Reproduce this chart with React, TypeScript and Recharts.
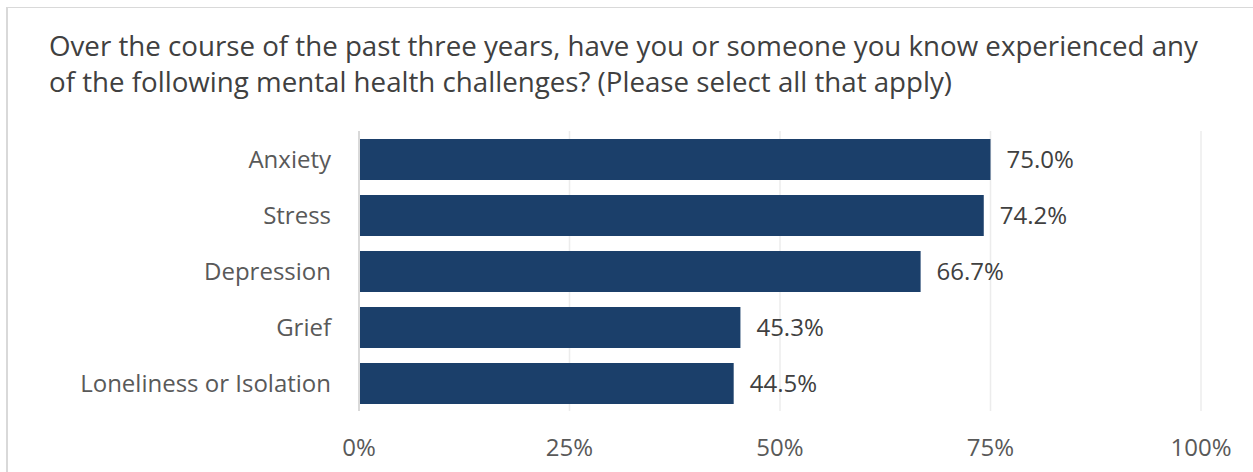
import React from 'react';
import { BarChart, Bar, XAxis, YAxis, CartesianGrid, LabelList } from 'recharts';

const categories = ['Anxiety', 'Stress', 'Depression', 'Grief', 'Loneliness or Isolation'];
const percents = [75.0, 74.2, 66.7, 45.3, 44.5];
const xTicks = [0, 25, 50, 75, 100];

const data = categories.map((name, i) => ({ name, value: percents[i] }));

const FONT = '"Open Sans", "Noto Sans", sans-serif';

export default function App() {
  return (
    <div
      style={{
        position: 'absolute',
        left: 0,
        top: 0,
        width: 1253,
        height: 472,
        background: '#fff',
        overflow: 'hidden',
        fontFamily: FONT,
      }}
    >
      {/* panel border */}
      <div
        style={{
          position: 'absolute',
          left: 6,
          top: 7,
          right: 0,
          bottom: -10,
          borderLeft: '2px solid #d9d9d9',
          borderTop: '1px solid #d9d9d9',
        }}
      />
      <div
        style={{
          position: 'absolute',
          left: 49,
          top: 27,
          width: 1204,
          fontSize: 27.7,
          lineHeight: '36px',
          color: '#404040',
          whiteSpace: 'nowrap',
        }}
      >
        Over the course of the past three years, have you or someone you know experienced any
        <br />
        of the following mental health challenges? (Please select all that apply)
      </div>
      <div style={{ position: 'absolute', left: 0, top: 0 }}>
        <BarChart
          width={1253}
          height={472}
          data={data}
          layout="vertical"
          margin={{ top: 131, right: 52, bottom: 0, left: 0 }}
        >
          <CartesianGrid horizontal={false} stroke="#ececec" strokeWidth={1.5} />
          <XAxis
            type="number"
            domain={[0, 100]}
            ticks={xTicks}
            tickFormatter={(v: number) => `${v}%`}
            axisLine={false}
            tickLine={false}
            tickMargin={22}
            height={61}
            tick={{ fill: '#595959', fontSize: 24, fontFamily: FONT }}
          />
          <YAxis
            type="category"
            dataKey="name"
            width={359}
            axisLine={{ stroke: '#d9d9d9', strokeWidth: 2 }}
            tickLine={false}
            tickMargin={22}
            tick={{ fill: '#595959', fontSize: 24, fontFamily: FONT }}
          />
          <Bar dataKey="value" fill="#1b3f6a" barSize={41} isAnimationActive={false}>
            <LabelList
              dataKey="value"
              position="right"
              offset={16}
              formatter={(v: any) => `${Number(v).toFixed(1)}%`}
              style={{ fill: '#404040', fontSize: 24, fontFamily: FONT }}
            />
          </Bar>
        </BarChart>
      </div>
    </div>
  );
}
